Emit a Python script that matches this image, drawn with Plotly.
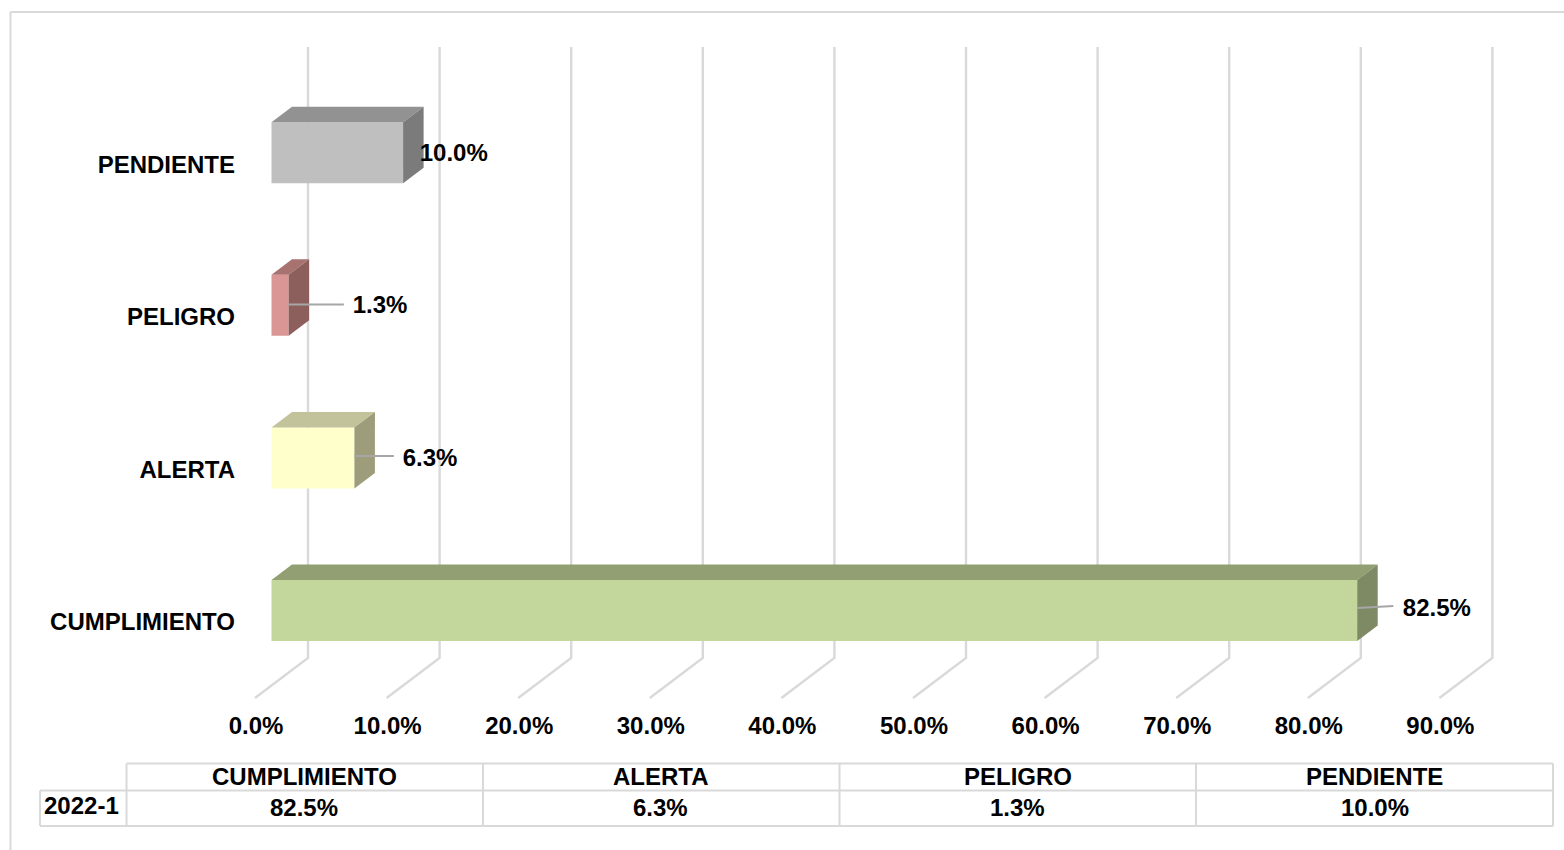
import plotly.graph_objects as go

categories = ["CUMPLIMIENTO", "ALERTA", "PELIGRO", "PENDIENTE"]
values = [82.5, 6.3, 1.3, 10.0]
value_labels = ["82.5%", "6.3%", "1.3%", "10.0%"]
axis_ticks = [0, 10, 20, 30, 40, 50, 60, 70, 80, 90]
axis_tick_labels = ["0.0%", "10.0%", "20.0%", "30.0%", "40.0%", "50.0%", "60.0%", "70.0%", "80.0%", "90.0%"]
period_label = "2022-1"

front_colors = ["#c3d69b", "#ffffcc", "#d99694", "#bfbfbf"]
top_colors = ["#919f73", "#c3c39b", "#a87270", "#929292"]
side_colors = ["#7e8a64", "#9d9d7c", "#8c5e5c", "#7b7b7b"]

W, H = 1564, 850
PX_X, X0 = 13.16, 271.5      # px per percent, px of value 0
PX_Y, Y0 = 152.6, 610.5      # px per category, px of category 0
HALF = 30.5 / PX_Y           # half bar thickness
DX, DY = 20.5 / PX_X, 15.5 / PX_Y   # depth offset of the 3D effect
GRID_C = "#d9d9d9"
FONT = dict(family="Liberation Sans", size=24, color="#000000", weight=700)

xr = [-X0 / PX_X, (W - X0) / PX_X]
yr = [(Y0 - H) / PX_Y, Y0 / PX_Y]

fig = go.Figure()

# back wall and floor gridlines
g_back, g_floor = (308 - X0) / PX_X, (255 - X0) / PX_X
g_top, g_kink, g_low = (Y0 - 47) / PX_Y, (Y0 - 658) / PX_Y, (Y0 - 698) / PX_Y
for t in axis_ticks:
    fig.add_trace(go.Scatter(
        x=[t + g_back, t + g_back, t + g_floor], y=[g_top, g_kink, g_low],
        mode="lines", line=dict(color=GRID_C, width=2.4), hoverinfo="skip", showlegend=False))


def poly(xs, ys, color):
    fig.add_trace(go.Scatter(x=xs, y=ys, mode="lines", fill="toself", fillcolor=color,
                             line=dict(width=0, color=color), hoverinfo="skip", showlegend=False))


# bars: front, top and side faces derived from the values
for i, v in enumerate(values):
    b, t = i - HALF, i + HALF
    poly([0, v, v, 0, 0], [b, b, t, t, b], front_colors[i])
    poly([0, DX, v + DX, v, 0], [t, t + DY, t + DY, t, t], top_colors[i])
    poly([v, v + DX, v + DX, v, v], [b, b + DY, t + DY, t, b], side_colors[i])

# leader lines
leader_len = [2.75, 3.0, 4.2, None]
leader_y = [(0.016, 0.030), (0.012, 0.012), (0.006, 0.006), None]
for i, v in enumerate(values):
    if leader_len[i] is None:
        continue
    fig.add_trace(go.Scatter(x=[v, v + leader_len[i]], y=[i + leader_y[i][0], i + leader_y[i][1]],
                             mode="lines", line=dict(color="#a6a6a6", width=2),
                             hoverinfo="skip", showlegend=False))

# data labels
label_dx = [6.05, 5.75, 6.95, 3.85]
label_dy = [0.006, -0.014, -0.008, -0.013]
fig.add_trace(go.Scatter(
    x=[v + d for v, d in zip(values, label_dx)],
    y=[i + d for i, d in enumerate(label_dy)],
    text=value_labels, mode="text", textposition="middle center",
    textfont=FONT, hoverinfo="skip", showlegend=False))

# helper trace so the label axes exist
fig.add_trace(go.Scatter(x=axis_ticks, y=[0] * len(axis_ticks), xaxis="x2", yaxis="y2",
                         mode="markers", marker=dict(opacity=0, size=1),
                         hoverinfo="skip", showlegend=False))

TICK_SHIFT_X = -15.5   # px, labels sit under the front of the floor lines
TICK_SHIFT_Y = 11.5    # px, category labels sit below the bar centres
fig.update_layout(
    width=W, height=H, autosize=False,
    margin=dict(l=0, r=0, t=0, b=0), paper_bgcolor="white", plot_bgcolor="white",
    showlegend=False, font=FONT,
    xaxis=dict(range=xr, domain=[0, 1], visible=False, fixedrange=True),
    yaxis=dict(range=yr, domain=[0, 1], visible=False, fixedrange=True),
    xaxis2=dict(range=[(-X0 - TICK_SHIFT_X) / PX_X, (W - X0 - TICK_SHIFT_X) / PX_X],
                overlaying="x", anchor="free", position=1 - 709 / H, side="bottom",
                tickvals=axis_ticks, ticktext=axis_tick_labels, tickfont=FONT,
                showgrid=False, zeroline=False, showline=False, ticks="", fixedrange=True),
    yaxis2=dict(range=[(Y0 + TICK_SHIFT_Y - H) / PX_Y, (Y0 + TICK_SHIFT_Y) / PX_Y],
                overlaying="y", anchor="free", position=235 / W, side="left",
                tickvals=list(range(len(categories))), ticktext=categories, tickfont=FONT,
                showgrid=False, zeroline=False, showline=False, ticks="", fixedrange=True),
)


def px(x):
    return x / W


def py(y):
    return 1 - y / H


shapes = []


def seg(x0, y0, x1, y1, width=2):
    shapes.append(dict(type="line", xref="paper", yref="paper", x0=px(x0), y0=py(y0), x1=px(x1), y1=py(y1),
                       line=dict(color=GRID_C, width=width)))


# outer frame
seg(10.5, 12, W, 12)
seg(10.5, 12, 10.5, H)

# data table
col_x = [126.5, 483, 839.5, 1196, 1553]
row_y = [763.5, 790.5, 826]
left_x = 40
seg(col_x[0], row_y[0], col_x[-1], row_y[0])
seg(left_x, row_y[1], col_x[-1], row_y[1])
seg(left_x, row_y[2], col_x[-1], row_y[2])
seg(left_x, row_y[1], left_x, row_y[2])
for cx in col_x:
    seg(cx, row_y[0], cx, row_y[2])
fig.update_layout(shapes=shapes)

ann = []
value_center_shift = [-1, -1, 0, 0]
for i, c in enumerate(categories):
    xc = (col_x[i] + col_x[i + 1]) / 2
    ann.append(dict(xref="paper", yref="paper", x=px(xc), y=py(776), text=c, showarrow=False,
                    xanchor="center", yanchor="middle", font=FONT))
    ann.append(dict(xref="paper", yref="paper", x=px(xc + value_center_shift[i]), y=py(807), text=value_labels[i],
                    showarrow=False, xanchor="center", yanchor="middle", font=FONT))
ann.append(dict(xref="paper", yref="paper", x=px(81), y=py(805), text=period_label, showarrow=False,
                xanchor="center", yanchor="middle", font=FONT))
fig.update_layout(annotations=ann)

fig.write_html("out.html", config=dict(displayModeBar=False),
               post_script="document.documentElement.style.overflow='hidden';document.body.style.margin='0';")
